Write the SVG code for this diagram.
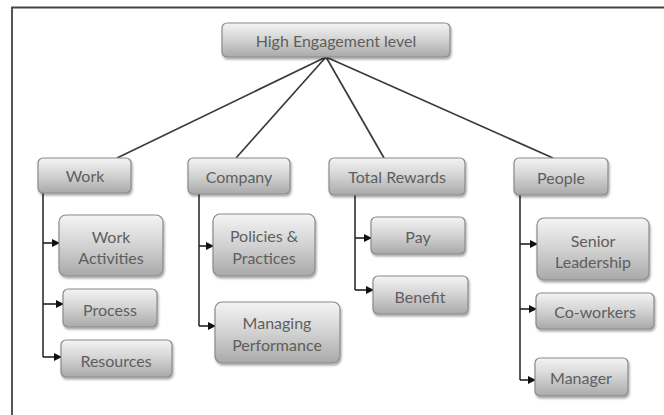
<svg xmlns="http://www.w3.org/2000/svg" width="664" height="415" viewBox="0 0 664 415">
<defs>
<linearGradient id="g" x1="0" y1="0" x2="0" y2="1">
<stop offset="0" stop-color="#f4f4f4"/>
<stop offset="0.5" stop-color="#d2d2d2"/>
<stop offset="1" stop-color="#a9a9a9"/>
</linearGradient>
<filter id="sh" x="-10%" y="-10%" width="130%" height="140%">
<feDropShadow dx="1" dy="2" stdDeviation="1.2" flood-color="#000" flood-opacity="0.35"/>
</filter>
<marker id="ar" markerWidth="8" markerHeight="8" refX="7" refY="4" orient="auto" markerUnits="userSpaceOnUse">
<path d="M0,0 L8,4 L0,8 Z" fill="#111"/>
</marker>
</defs>
<style>
.b{fill:url(#g);stroke:#8a8a8a;stroke-width:1.2;filter:url(#sh)}
.t{font-family:Lato,"Open Sans","Liberation Sans",sans-serif;font-size:16px;fill:#5e5e5e;text-anchor:middle;dominant-baseline:central}
.c{fill:none;stroke:#3a3a3a;stroke-width:1.7}
.a{fill:none;stroke:#222;stroke-width:1.6;marker-end:url(#ar)}
</style>
<rect width="664" height="415" fill="#fff"/>
<path d="M12,415 V7.5 H664" fill="none" stroke="#444" stroke-width="1.8"/>
<g id="connectors">
<path class="c" d="M326,57 L117,158"/>
<path class="c" d="M326,57 L236,158"/>
<path class="c" d="M326,57 L384,158"/>
<path class="c" d="M326,57 L553,158"/>
<path class="c" d="M43,193 V357"/>
<path class="a" d="M43,243 H59"/>
<path class="a" d="M43,304 H63"/>
<path class="a" d="M43,357 H61"/>
<path class="c" d="M199,194 V326"/>
<path class="a" d="M199,246 H213"/>
<path class="a" d="M199,326 H215"/>
<path class="c" d="M355,195 V290"/>
<path class="a" d="M355,238 H371"/>
<path class="a" d="M355,290 H373"/>
<path class="c" d="M520,195 V380"/>
<path class="a" d="M520,244 H537"/>
<path class="a" d="M520,309 H536"/>
<path class="a" d="M520,380 H535"/>
</g>
<g id="n-top"><rect class="b" x="222" y="23" width="228" height="34" rx="5"/><text class="t" x="336" y="40">High Engagement level</text></g>
<g id="n-work"><rect class="b" x="38" y="158" width="93" height="35" rx="5"/><text class="t" x="85" y="175">Work</text></g>
<g id="n-company"><rect class="b" x="188" y="158" width="102" height="36" rx="5"/><text class="t" x="239" y="176">Company</text></g>
<g id="n-rewards"><rect class="b" x="329" y="158" width="136" height="37" rx="5"/><text class="t" x="397" y="176">Total Rewards</text></g>
<g id="n-people"><rect class="b" x="514" y="158" width="94" height="37" rx="5"/><text class="t" x="561" y="177">People</text></g>
<g id="n-workact"><rect class="b" x="59" y="215" width="104" height="61" rx="7"/><text class="t" x="111" y="236">Work</text><text class="t" x="111" y="257">Activities</text></g>
<g id="n-process"><rect class="b" x="63" y="289" width="94" height="38" rx="5"/><text class="t" x="110" y="309">Process</text></g>
<g id="n-resources"><rect class="b" x="61" y="340" width="111" height="37" rx="5"/><text class="t" x="116" y="360">Resources</text></g>
<g id="n-policies"><rect class="b" x="213" y="214" width="102" height="62" rx="7"/><text class="t" x="264" y="235">Policies &amp;</text><text class="t" x="264" y="257">Practices</text></g>
<g id="n-managing"><rect class="b" x="215" y="302" width="125" height="61" rx="7"/><text class="t" x="277" y="322">Managing</text><text class="t" x="277" y="344">Performance</text></g>
<g id="n-pay"><rect class="b" x="371" y="217" width="94" height="37" rx="5"/><text class="t" x="418" y="236">Pay</text></g>
<g id="n-benefit"><rect class="b" x="373" y="276" width="95" height="38" rx="5"/><text class="t" x="420" y="296">Benefit</text></g>
<g id="n-senior"><rect class="b" x="537" y="218" width="112" height="62" rx="7"/><text class="t" x="593" y="240">Senior</text><text class="t" x="593" y="261">Leadership</text></g>
<g id="n-coworkers"><rect class="b" x="536" y="293" width="118" height="36" rx="5"/><text class="t" x="595" y="311">Co-workers</text></g>
<g id="n-manager"><rect class="b" x="535" y="358" width="93" height="38" rx="5"/><text class="t" x="581" y="377">Manager</text></g>
</svg>
